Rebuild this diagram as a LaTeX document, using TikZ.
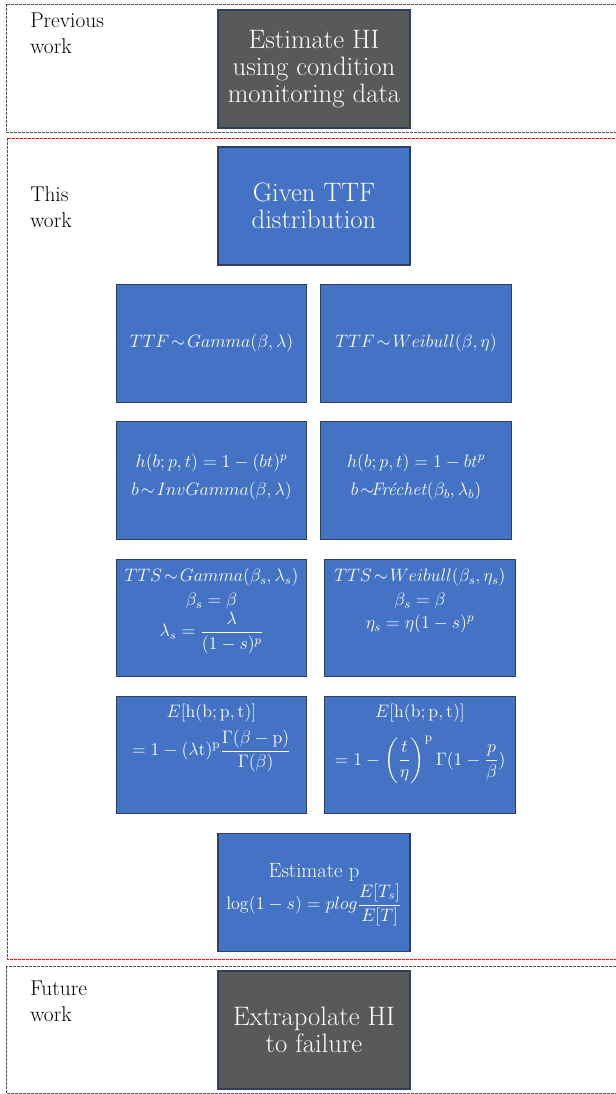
\RequirePackage{fix-cm}
\documentclass[tikz,border=0pt]{standalone}
\usepackage{amsmath}
\definecolor{blueF}{HTML}{4472C4}
\definecolor{grayF}{HTML}{595959}
\definecolor{edgeC}{HTML}{2F3F5F}
\definecolor{redD}{HTML}{D02020}
\definecolor{grayD}{HTML}{555555}
\tikzset{
  bigbox/.style={draw=edgeC, line width=0.8pt, minimum width=144pt, minimum height=88.5pt, inner sep=0pt, text=white, align=center, font=\fontsize{20}{20.5}\selectfont},
  graybox/.style={bigbox, fill=grayF},
  bluebox/.style={bigbox, fill=blueF},
  mathbox/.style={draw=edgeC, line width=0.8pt, fill=blueF, minimum width=143pt, minimum height=88pt, inner sep=0pt},
  mtext/.style={text=white, align=center, inner sep=0pt, font=\fontsize{13.5}{18}\selectfont},
  lbl/.style={anchor=north west, align=left, inner sep=0pt, font=\fontsize{16}{19.5}\selectfont},
  frameG/.style={draw=grayD, line width=0.6pt, dash pattern=on 2pt off 1pt},
  frameR/.style={draw=redD, line width=0.6pt, dash pattern=on 2pt off 1pt}
}
\begin{document}
\begin{tikzpicture}[x=0.75pt,y=-0.75pt]
\useasboundingbox (0,0) rectangle (616,1094);
\clip (0,0) rectangle (616,1094);
% frames
\draw[frameG] (6,4) rectangle (630,132);
\draw[frameR] (7,138) rectangle (630,959);
\draw[frameG] (6,966) rectangle (630,1093);
% labels
\node[lbl] (lprev) at (30,13) {Previous\\work};
\node[lbl] (lthis) at (30,186) {This\\work};
\node[lbl] (lfut) at (30,981) {Future\\work};
% top / bottom
\node[graybox] (hi) at (314,69) {Estimate HI\\using condition\\monitoring data};
\node[bluebox] (ttf) at (314,206) {Given TTF\\distribution};
\node[graybox] (ext) at (314,1030) {Extrapolate HI\\to failure};
% row 1
\node[mathbox] (g1) at (211.5,343.5) {};
\node[mathbox] (w1) at (416,343.5) {};
\node[mtext] (g1a) at (g1) {$TTF\!\sim\! Gamma(\beta,\lambda)$};
\node[mtext] (w1a) at (w1) {$TTF\!\sim\! Weibull(\beta,\eta)$};
% row 2
\node[mathbox] (g2) at (211.5,480.5) {};
\node[mathbox] (w2) at (416,480.5) {};
\node[mtext, font=\fontsize{13.5}{21.5}\selectfont] (g2a) at (211.5,477) {$h(b;p,t)=1-(bt)^p$\\$b\!\sim\! InvGamma(\beta,\lambda)$};
\node[mtext, font=\fontsize{13.5}{21.5}\selectfont] (w2a) at (416,477) {$h(b;p,t)=1-bt^p$\\$b\!\sim\!$\textit{Fréchet}$(\beta_b,\lambda_b)$};
% row 3
\node[mathbox] (g3) at (211.5,618) {};
\node[mathbox] (w3) at (420,618) {};
\node[mtext] (g3a) at (211.5,577) {$TTS\!\sim\! Gamma(\beta_s,\lambda_s)$};
\node[mtext] (g3b) at (211.5,601) {$\beta_s=\beta$};
\node[mtext] (g3c) at (211.5,633) {$\lambda_s=\dfrac{\lambda}{(1-s)^p}$};
\node[mtext] (w3a) at (420,577) {$TTS\!\sim\! Weibull(\beta_s,\eta_s)$};
\node[mtext] (w3b) at (420,601) {$\beta_s=\beta$};
\node[mtext] (w3c) at (420,624) {$\eta_s=\eta(1-s)^p$};
% row 4
\node[mathbox] (g4) at (211.5,755) {};
\node[mathbox] (w4) at (420,755) {};
\node[mtext] (g4a) at (211.5,713) {$E[\mathrm{h(b;p,t)}]$};
\node[mtext] (g4b) at (211.5,751) {$=1-(\lambda\mathrm{t})^{\mathrm{p}}\dfrac{\Gamma(\beta-\mathrm{p})}{\Gamma(\beta)}$};
\node[mtext] (w4a) at (420,713) {$E[\mathrm{h(b;p,t)}]$};
\node[mtext] (w4b) at (420,760) {$=1-\left(\dfrac{t}{\eta}\right)^{\mathrm{p}}\Gamma(1-\dfrac{p}{\beta})$};
% estimate p
\node[mathbox, minimum width=144pt] (ep) at (314,892.5) {};
\node[mtext, font=\fontsize{15.5}{20}\selectfont] (epa) at (314,872) {Estimate p};
\node[mtext] (epb) at (314,905) {$\log(1-s)=p log\dfrac{E[T_s]}{E[T]}$};
\end{tikzpicture}
\end{document}
